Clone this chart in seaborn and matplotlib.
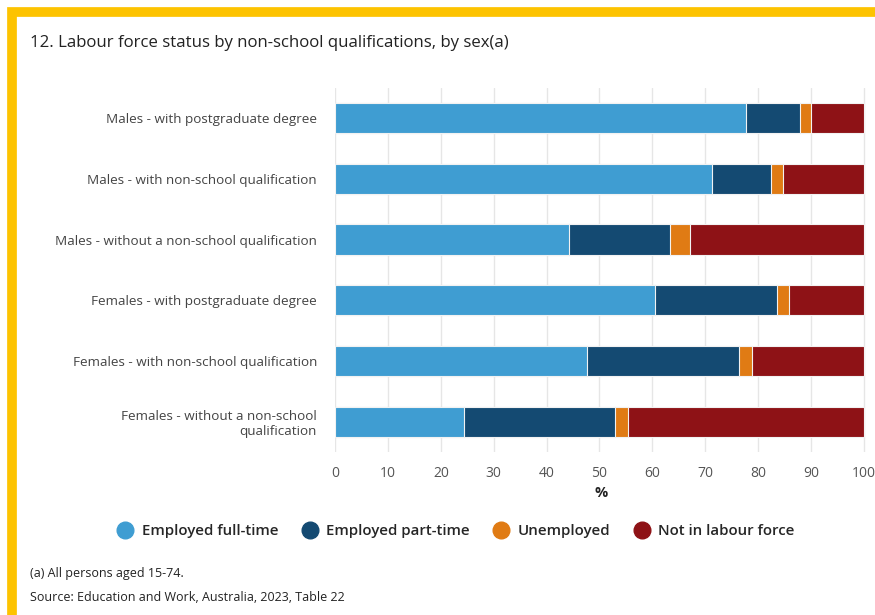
import pandas as pd
import matplotlib.pyplot as plt
import seaborn as sns
from matplotlib.patches import Rectangle
from matplotlib.lines import Line2D

# Data (percent of persons aged 15-74)
groups = [
    "Males - with postgraduate degree",
    "Males - with non-school qualification",
    "Males - without a non-school qualification",
    "Females - with postgraduate degree",
    "Females - with non-school qualification",
    "Females - without a non-school\nqualification",
]
full_time = [77.8, 71.4, 44.3, 60.6, 47.6, 24.4]
part_time = [10.1, 11.1, 19.0, 23.0, 28.9, 28.5]
unemployed = [2.2, 2.3, 3.9, 2.3, 2.3, 2.5]
not_in_lf = [9.9, 15.2, 32.8, 14.1, 21.2, 44.6]

series = ["Employed full-time", "Employed part-time", "Unemployed", "Not in labour force"]
colors = ["#3f9dd2", "#144a72", "#e07b14", "#8e1216"]

df = pd.DataFrame({
    "group": groups,
    series[0]: full_time,
    series[1]: part_time,
    series[2]: unemployed,
    series[3]: not_in_lf,
})
cum = df[series].cumsum(axis=1)
cum["group"] = df["group"]

sns.set_style("white")
plt.rcParams["font.family"] = ["Open Sans", "DejaVu Sans"]

fig = plt.figure(figsize=(8.75, 6.15), dpi=100)
ax = fig.add_axes([0.383, 0.265, 0.607, 0.592])

# stacked bars: draw cumulative totals from the largest down
for s, c in reversed(list(zip(series, colors))):
    sns.barplot(data=cum, x=s, y="group", color=c, orient="h", width=0.5,
                saturation=1, edgecolor="#f2f2f2", linewidth=0.8, ax=ax, order=groups)

ax.set_xlim(0, 100.5)
ax.set_ylim(5.5, -0.5)
ax.set_xticks(range(0, 101, 10))
ax.xaxis.grid(True, color="#e6e6e6", linewidth=1)
ax.set_axisbelow(True)
for sp in ax.spines.values():
    sp.set_visible(False)
ax.tick_params(axis="x", colors="#555555", labelsize=10, length=0, pad=10)
ax.tick_params(axis="y", colors="#444444", labelsize=9.7, length=0, pad=13)
for lbl in ax.get_yticklabels():
    lbl.set_horizontalalignment("right")
    lbl.set_multialignment("right")
ax.set_ylabel("")
ax.set_xlabel("%", fontsize=10.5, fontweight="bold", color="#222222", labelpad=4)

# title and notes
fig.text(0.034, 0.93, "12. Labour force status by non-school qualifications, by sex(a)",
         fontsize=12.1, color="#222222", va="center")
fig.text(0.034, 0.068, "(a) All persons aged 15-74.", fontsize=9, color="#222222", va="center")
fig.text(0.034, 0.029, "Source: Education and Work, Australia, 2023, Table 22",
         fontsize=9, color="#222222", va="center")

# legend
handles = [Line2D([0], [0], marker="o", linestyle="", markersize=12,
                  markerfacecolor=c, markeredgecolor=c) for c in colors]
fig.legend(handles, series, loc="center", bbox_to_anchor=(0.517, 0.136), ncol=4,
           frameon=False, handletextpad=0.1, columnspacing=1.1,
           prop={"size": 10.8, "weight": "semibold"})

# yellow frame (top and left edges)
fig.patches.append(Rectangle((0.014, -0.05), 1.2, 1.03, transform=fig.transFigure,
                             fill=False, edgecolor="#fdc300", linewidth=7, zorder=0))

plt.savefig("out.png")
